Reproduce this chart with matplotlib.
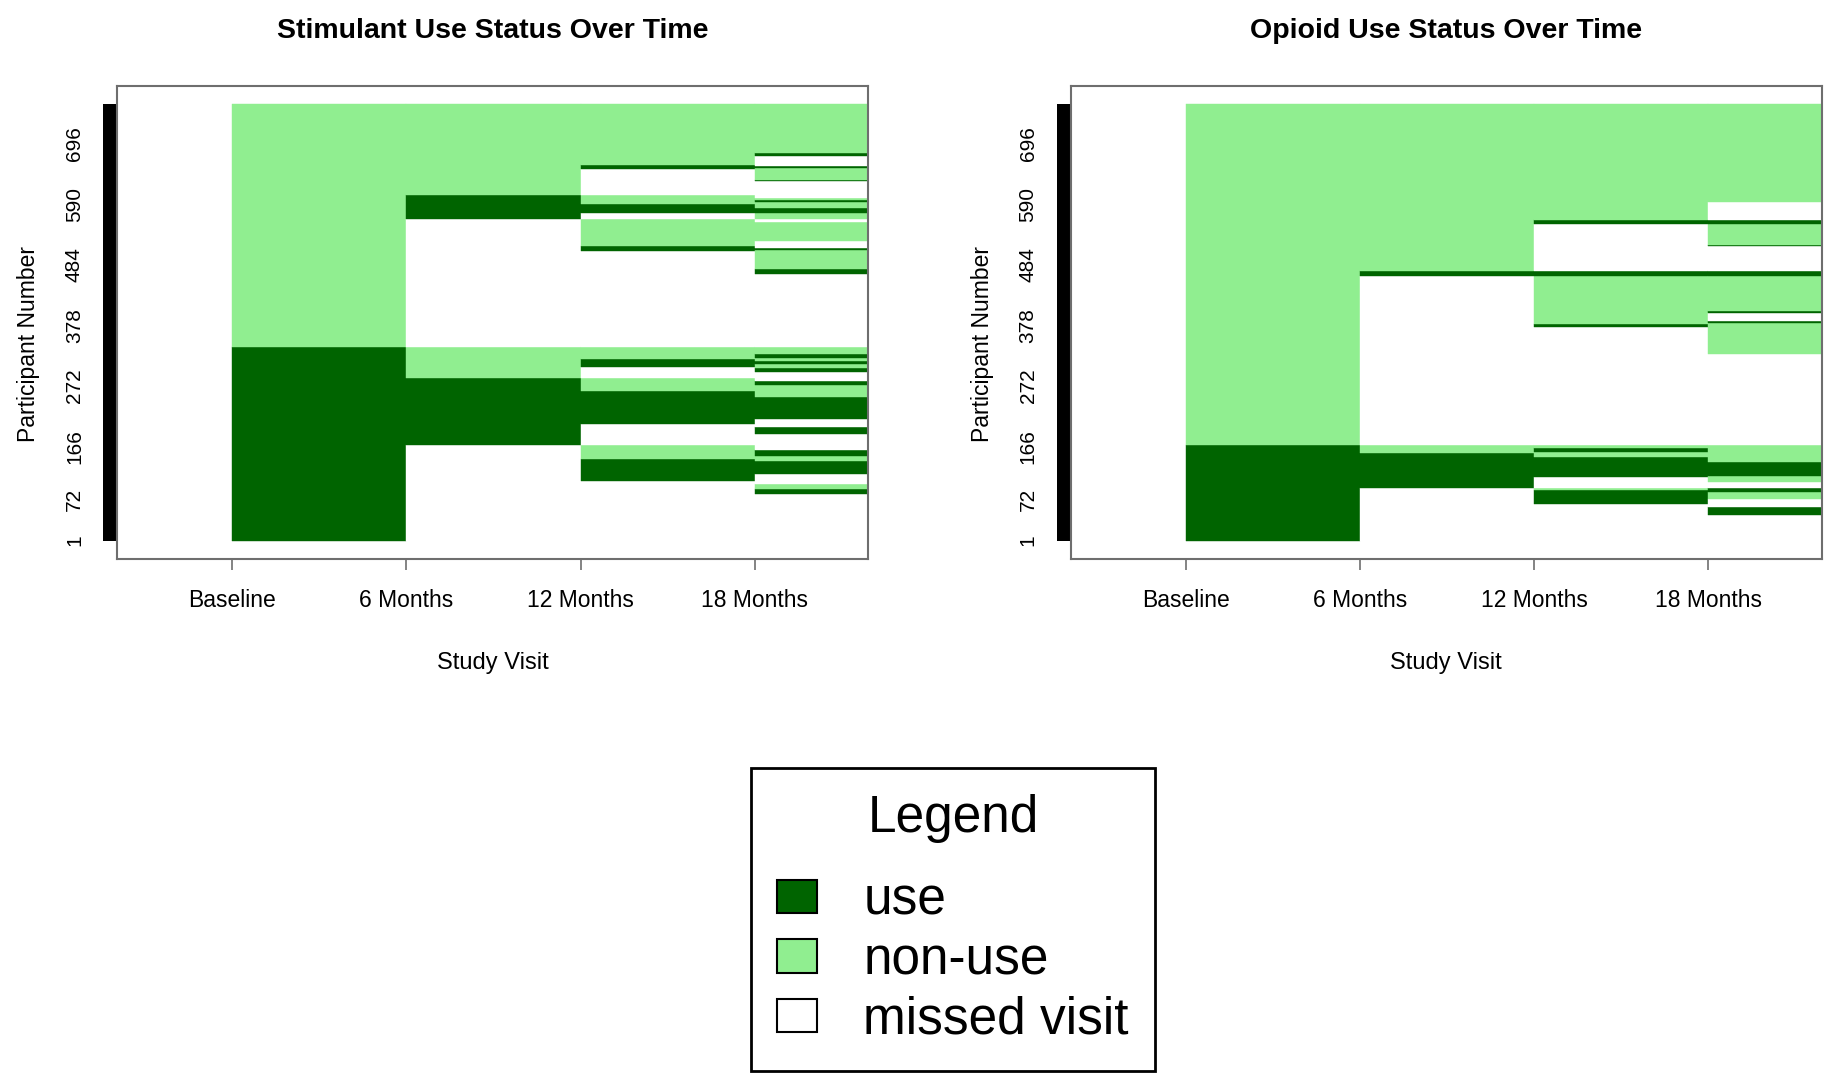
import matplotlib
matplotlib.use("Agg")
import matplotlib.pyplot as plt
import matplotlib.transforms as mtransforms
from matplotlib.patches import Patch, Rectangle

plt.rcParams['font.family'] = ['Liberation Sans', 'DejaVu Sans']

n_participants = 765
visits = ['Baseline', '6 Months', '12 Months', '18 Months']
participant_ticks = [1, 72, 166, 272, 378, 484, 590, 696]

# runs of status at each visit, bottom to top: (status, number of participants)
stim_baseline = [('use', 340), ('non-use', 425)]
stim_6m = [('missed visit', 168), ('use', 118), ('non-use', 54),
           ('missed visit', 224), ('use', 42), ('non-use', 159)]
stim_12m = [('missed visit', 105), ('use', 38), ('non-use', 25),
            ('missed visit', 36), ('use', 58), ('non-use', 24),
            ('missed visit', 18), ('use', 14), ('non-use', 22),
            ('missed visit', 168), ('use', 8), ('non-use', 48),
            ('missed visit', 10), ('use', 16), ('non-use', 16),
            ('missed visit', 45), ('use', 8), ('non-use', 106)]
stim_18m = [('missed visit', 82), ('use', 8), ('non-use', 10), ('missed visit', 17),
            ('use', 23), ('non-use', 9), ('use', 9), ('missed visit', 29),
            ('use', 12), ('missed visit', 14), ('use', 38), ('non-use', 21),
            ('use', 8), ('missed visit', 15), ('use', 7), ('non-use', 8),
            ('use', 5), ('non-use', 6), ('use', 6), ('non-use', 13),
            ('missed visit', 127), ('use', 9), ('non-use', 33), ('use', 5),
            ('missed visit', 12), ('non-use', 33), ('missed visit', 5), ('non-use', 11),
            ('use', 9), ('non-use', 9), ('use', 4), ('non-use', 4),
            ('missed visit', 29), ('use', 3), ('non-use', 20), ('use', 4),
            ('missed visit', 18), ('use', 5), ('non-use', 85)]

opi_baseline = [('use', 167), ('non-use', 598)]
opi_6m = [('missed visit', 93), ('use', 60), ('non-use', 14),
          ('missed visit', 297), ('use', 9), ('non-use', 292)]
opi_12m = [('missed visit', 64), ('use', 24), ('non-use', 5),
           ('missed visit', 18), ('use', 35), ('non-use', 10), ('use', 7), ('non-use', 4),
           ('missed visit', 207), ('use', 6), ('non-use', 84),
           ('use', 9), ('missed visit', 83), ('use', 6), ('non-use', 203)]
opi_18m = [('missed visit', 44), ('use', 15), ('missed visit', 14), ('non-use', 12),
           ('use', 8), ('missed visit', 10), ('non-use', 11), ('use', 24), ('non-use', 29),
           ('missed visit', 160), ('non-use', 54), ('use', 4), ('missed visit', 15),
           ('use', 3), ('non-use', 61), ('use', 9), ('missed visit', 44), ('use', 2),
           ('non-use', 37), ('use', 6), ('missed visit', 31), ('non-use', 172)]

status_colors = {'use': '#006400', 'non-use': '#90EE90', 'missed visit': '#FFFFFF'}
frame_color = '#6e6e6e'


def draw_panel(ax, columns, title):
    for i, runs in enumerate(columns):
        bottom = 0
        for status, count in runs:
            c = status_colors[status]
            ax.bar(i, count, bottom=bottom, width=1, align='edge',
                   color=c, edgecolor=c, linewidth=0.3)
            bottom += count

    ax.set_xlim(-0.66, 3.65)
    ax.set_ylim(-33, n_participants + 33)
    ax.set_xticks(range(len(visits)))
    ax.set_xticklabels(visits)
    ax.set_yticks([t - 0.5 for t in participant_ticks])
    ax.set_yticklabels([str(t) for t in participant_ticks])
    ax.tick_params(axis='x', length=8, width=1.2, color=frame_color, pad=13, labelsize=16.5)
    ax.tick_params(axis='y', length=0, pad=24, labelsize=15, labelrotation=90)
    for lab in ax.get_yticklabels():
        lab.set_va('center')
    for sp in ax.spines.values():
        sp.set_color(frame_color)
        sp.set_linewidth(1.5)

    # black index bar along the left edge
    trans = mtransforms.blended_transform_factory(ax.transAxes, ax.transData)
    ax.add_patch(Rectangle((-0.0188, 0), 0.0188, n_participants, transform=trans,
                           facecolor='black', edgecolor='none', clip_on=False))

    ax.set_title(title, fontsize=20.5, fontweight='bold', y=1.115, va='center', pad=0)
    ax.set_xlabel('Study Visit', fontsize=17)
    ax.xaxis.set_label_coords(0.5, -0.219)
    ax.xaxis.label.set_va('center')
    ax.set_ylabel('Participant Number', fontsize=16.5)
    ax.yaxis.set_label_coords(-0.118, 0.455)
    ax.yaxis.label.set_va('center')


fig = plt.figure(figsize=(18.39, 10.78), dpi=100)
ax1 = fig.add_axes([0.0638, 0.4811, 0.4082, 0.4395])
ax2 = fig.add_axes([0.5823, 0.4811, 0.4082, 0.4395])

draw_panel(ax1, [stim_baseline, stim_6m, stim_12m, stim_18m], 'Stimulant Use Status Over Time')
draw_panel(ax2, [opi_baseline, opi_6m, opi_12m, opi_18m], 'Opioid Use Status Over Time')

handles = [Patch(facecolor=status_colors[s], edgecolor='black', linewidth=1.5, label=s)
           for s in ['use', 'non-use', 'missed visit']]
leg = fig.legend(handles=handles, loc='upper center', bbox_to_anchor=(953 / 1839, 1 - 768 / 1078),
                 borderaxespad=0, title='Legend\n', title_fontsize=37, fontsize=37,
                 frameon=True, fancybox=False, framealpha=1, edgecolor='black',
                 handlelength=0.78, handleheight=0.62, handletextpad=0.9,
                 labelspacing=0.21, borderpad=0.5)
leg.get_title().set_linespacing(0.31)
leg.get_frame().set_linewidth(2)

fig.savefig('out.png', dpi=100)
